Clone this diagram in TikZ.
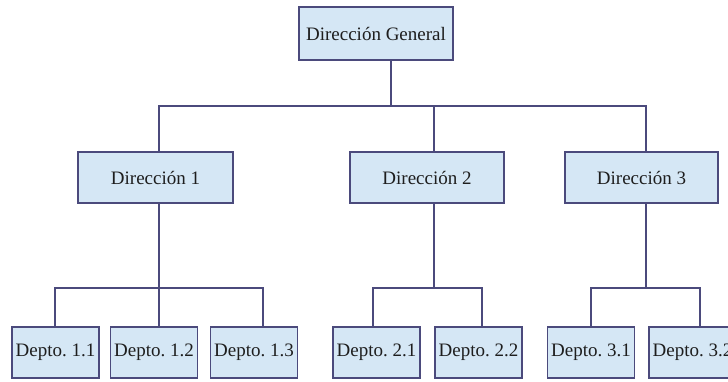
\documentclass[tikz,border=0pt]{standalone}
\usepackage{fontspec}
\setmainfont{Liberation Serif}
\frenchspacing
\definecolor{boxfill}{HTML}{D5E7F5}
\definecolor{boxline}{HTML}{4B4A7C}
\definecolor{txt}{HTML}{1E1E1E}
\tikzset{
  unit/.style={draw=boxline, fill=boxfill, line width=1.6pt, rectangle,
    inner sep=0pt, minimum height=51pt, text=txt, font=\fontsize{19}{22}\selectfont},
  wide/.style={unit, minimum width=154pt},
  dept/.style={unit, minimum width=87pt},
  link/.style={draw=boxline, line width=1.6pt}
}
\begin{document}
\begin{tikzpicture}[x=1pt,y=-1pt]
\useasboundingbox (0,0) rectangle (728,381);

% management levels
\node[wide, minimum height=53pt] (dg) at (376,33.5) {Dirección General};
\node[wide, minimum width=155pt] (d1) at (155.5,177.5) {Dirección 1};
\node[wide] (d2) at (427,177.5) {Dirección 2};
\node[wide, minimum width=153pt] (d3) at (641.5,177.5) {Dirección 3};

% departments
\node[dept] (p11) at (55.5,352.5) {Depto. 1.1};
\node[dept] (p12) at (154,352.5) {Depto. 1.2};
\node[dept] (p13) at (254,352.5) {Depto. 1.3};
\node[dept] (p21) at (376.5,352.5) {Depto. 2.1};
\node[dept] (p22) at (478.5,352.5) {Depto. 2.2};
\node[dept] (p31) at (591,352.5) {Depto. 3.1};
\node[dept] (p32) at (692.5,352.5) {Depto. 3.2};

% junction points of the connector buses
\coordinate (tM) at (391,106);
\coordinate (tL) at (159,106);
\coordinate (t2) at (434,106);
\coordinate (tR) at (646,106);
\coordinate (u1) at (159,288);
\coordinate (u11) at (55,288);
\coordinate (u13) at (263,288);
\coordinate (u2) at (434,288);
\coordinate (u21) at (373,288);
\coordinate (u22) at (482,288);
\coordinate (u3) at (646,288);
\coordinate (u31) at (591,288);
\coordinate (u32) at (700,288);

% top level to directions
\draw[link] (dg.south -| tM) -- (tM);
\draw[link] (d1.north -| tL) -- (tL) -- (tR) -- (d3.north -| tR);
\draw[link] (t2) -- (d2.north -| t2);

% direction 1 to its departments
\draw[link] (d1.south -| u1) -- (u1);
\draw[link] (p11.north -| u11) -- (u11) -- (u13) -- (p13.north -| u13);
\draw[link] (u1) -- (p12.north -| u1);

% direction 2 to its departments
\draw[link] (d2.south -| u2) -- (u2);
\draw[link] (p21.north -| u21) -- (u21) -- (u22) -- (p22.north -| u22);

% direction 3 to its departments
\draw[link] (d3.south -| u3) -- (u3);
\draw[link] (p31.north -| u31) -- (u31) -- (u32) -- (p32.north -| u32);
\end{tikzpicture}
\end{document}
